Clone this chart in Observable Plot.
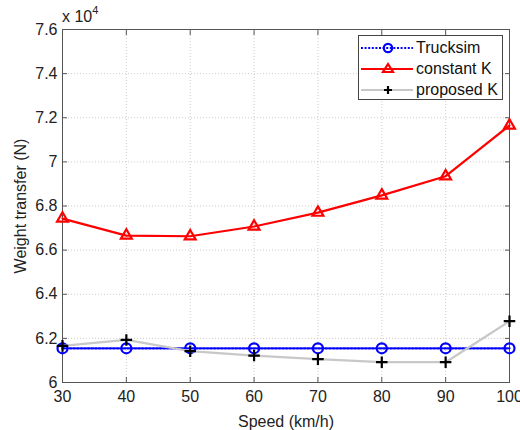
<!DOCTYPE html>
<html>
<head>
<meta charset="utf-8">
<script src="https://cdn.jsdelivr.net/npm/d3@7"></script>
<script src="https://cdn.jsdelivr.net/npm/@observablehq/plot@0.6"></script>
<style>
  html, body { margin: 0; padding: 0; background: #fff; }
  #wrap { position: relative; width: 520px; height: 430px; font-family: "Liberation Sans", Arial, sans-serif; }
  #mult { position: absolute; left: 62px; top: 6px; font-size: 16px; color: #222; }
  #mult sup { font-size: 11px; position: relative; top: -2px; }
  #legend { position: absolute; left: 358px; top: 35px; width: 143px; height: 63px; border: 1px solid #444; background: #fff; font-size: 16px; color: #111; }
  .row { position: absolute; left: 0; height: 20px; display: flex; align-items: center; }
  .row svg { margin-left: 2px; }
  .row span { margin-left: 3px; }
</style>
</head>
<body>
<div id="wrap"></div>
<script>
const speeds = [30, 40, 50, 60, 70, 80, 90, 100];
const trucksim = [61550, 61550, 61550, 61550, 61550, 61550, 61550, 61550];
const constantK = [67430, 66660, 66630, 67070, 67700, 68480, 69350, 71650];
const proposedK = [61660, 61930, 61420, 61220, 61060, 60920, 60920, 62780];
const seriesNames = ["Trucksim", "constant K", "proposed K"];
const xTicks = [30, 40, 50, 60, 70, 80, 90, 100];
const yTicks = [60000, 62000, 64000, 66000, 68000, 70000, 72000, 74000, 76000];

const toRows = (vals) => speeds.map((s, i) => ({speed: s, value: vals[i]}));
const tData = toRows(trucksim), cData = toRows(constantK), pData = toRows(proposedK);

const axisColor = "#555";
const fmtY = d => String(+(d / 1e4).toFixed(1));

const chart = Plot.plot({
  width: 520,
  height: 430,
  marginLeft: 62,
  marginRight: 11,
  marginTop: 29,
  marginBottom: 48,
  style: {fontFamily: "'Liberation Sans', Arial, sans-serif", fontSize: "16px", color: "#222", background: "#fff"},
  x: {domain: [30, 100]},
  y: {domain: [60000, 76000]},
  marks: [
    Plot.gridX(xTicks, {stroke: "#aaa", strokeOpacity: 0.6, strokeDasharray: "1,2"}),
    Plot.gridY(yTicks, {stroke: "#aaa", strokeOpacity: 0.6, strokeDasharray: "1,2"}),
    Plot.frame({stroke: axisColor}),
    Plot.axisX(xTicks, {anchor: "bottom", tickSize: -5, tickPadding: 13, stroke: axisColor, fill: "#222", tickFormat: d => String(d), label: "Speed (km/h)", labelAnchor: "center", labelOffset: 44, labelArrow: "none"}),
    Plot.axisX(xTicks, {anchor: "top", tickSize: -5, stroke: axisColor, tickFormat: () => "", label: null}),
    Plot.axisY(yTicks, {anchor: "left", tickSize: -5, tickPadding: 10, stroke: axisColor, fill: "#222", tickFormat: fmtY, label: "Weight transfer (N)", labelAnchor: "center", labelOffset: 48, labelArrow: "none"}),
    Plot.axisY(yTicks, {anchor: "right", tickSize: -5, stroke: axisColor, tickFormat: () => "", label: null}),
    Plot.line(tData, {x: "speed", y: "value", stroke: "#0000ff", strokeWidth: 2.2, strokeDasharray: "2,1.6"}),
    Plot.dot(tData, {x: "speed", y: "value", symbol: "circle", r: 5, fill: "none", stroke: "#0000ff", strokeWidth: 2.2}),
    Plot.line(cData, {x: "speed", y: "value", stroke: "#ff0000", strokeWidth: 2.2}),
    Plot.dot(cData, {x: "speed", y: "value", symbol: "triangle2", r: 5.2, fill: "none", stroke: "#ff0000", strokeWidth: 2.2}),
    Plot.line(pData, {x: "speed", y: "value", stroke: "#c8c8c8", strokeWidth: 2.2}),
    Plot.dot(pData, {x: "speed", y: "value", symbol: "plus", r: 3.8, fill: "none", stroke: "#000", strokeWidth: 2.2})
  ]
});

const wrap = document.getElementById("wrap");
wrap.appendChild(chart);

const mult = document.createElement("div");
mult.id = "mult";
mult.innerHTML = "x 10<sup>4</sup>";
wrap.appendChild(mult);

// legend
const legendStyles = [
  {stroke: "#0000ff", dash: "2,1.6", width: 2.2, marker: "circle"},
  {stroke: "#ff0000", dash: null, width: 2.2, marker: "triangle"},
  {stroke: "#c8c8c8", dash: null, width: 2.2, marker: "plus"}
];
const legend = document.createElement("div");
legend.id = "legend";
seriesNames.forEach((name, i) => {
  const st = legendStyles[i];
  const row = document.createElement("div");
  row.className = "row";
  row.style.top = (2 + i * 21) + "px";
  let m = "";
  if (st.marker === "circle") m = `<circle cx="27" cy="10" r="4.2" fill="none" stroke="${st.stroke}" stroke-width="2.2"/>`;
  if (st.marker === "triangle") m = `<path d="M27,5 L32,13 L22,13 Z" fill="none" stroke="${st.stroke}" stroke-width="2.2"/>`;
  if (st.marker === "plus") m = `<path d="M27,6 V14 M23,10 H31" stroke="#000" stroke-width="2.2"/>`;
  row.innerHTML = `<svg width="52" height="20"><line x1="0" y1="10" x2="52" y2="10" stroke="${st.stroke}" stroke-width="${st.width}" ${st.dash ? `stroke-dasharray="${st.dash}"` : ""}/>${m}</svg><span>${name}</span>`;
  legend.appendChild(row);
});
wrap.appendChild(legend);
</script>
</body>
</html>
